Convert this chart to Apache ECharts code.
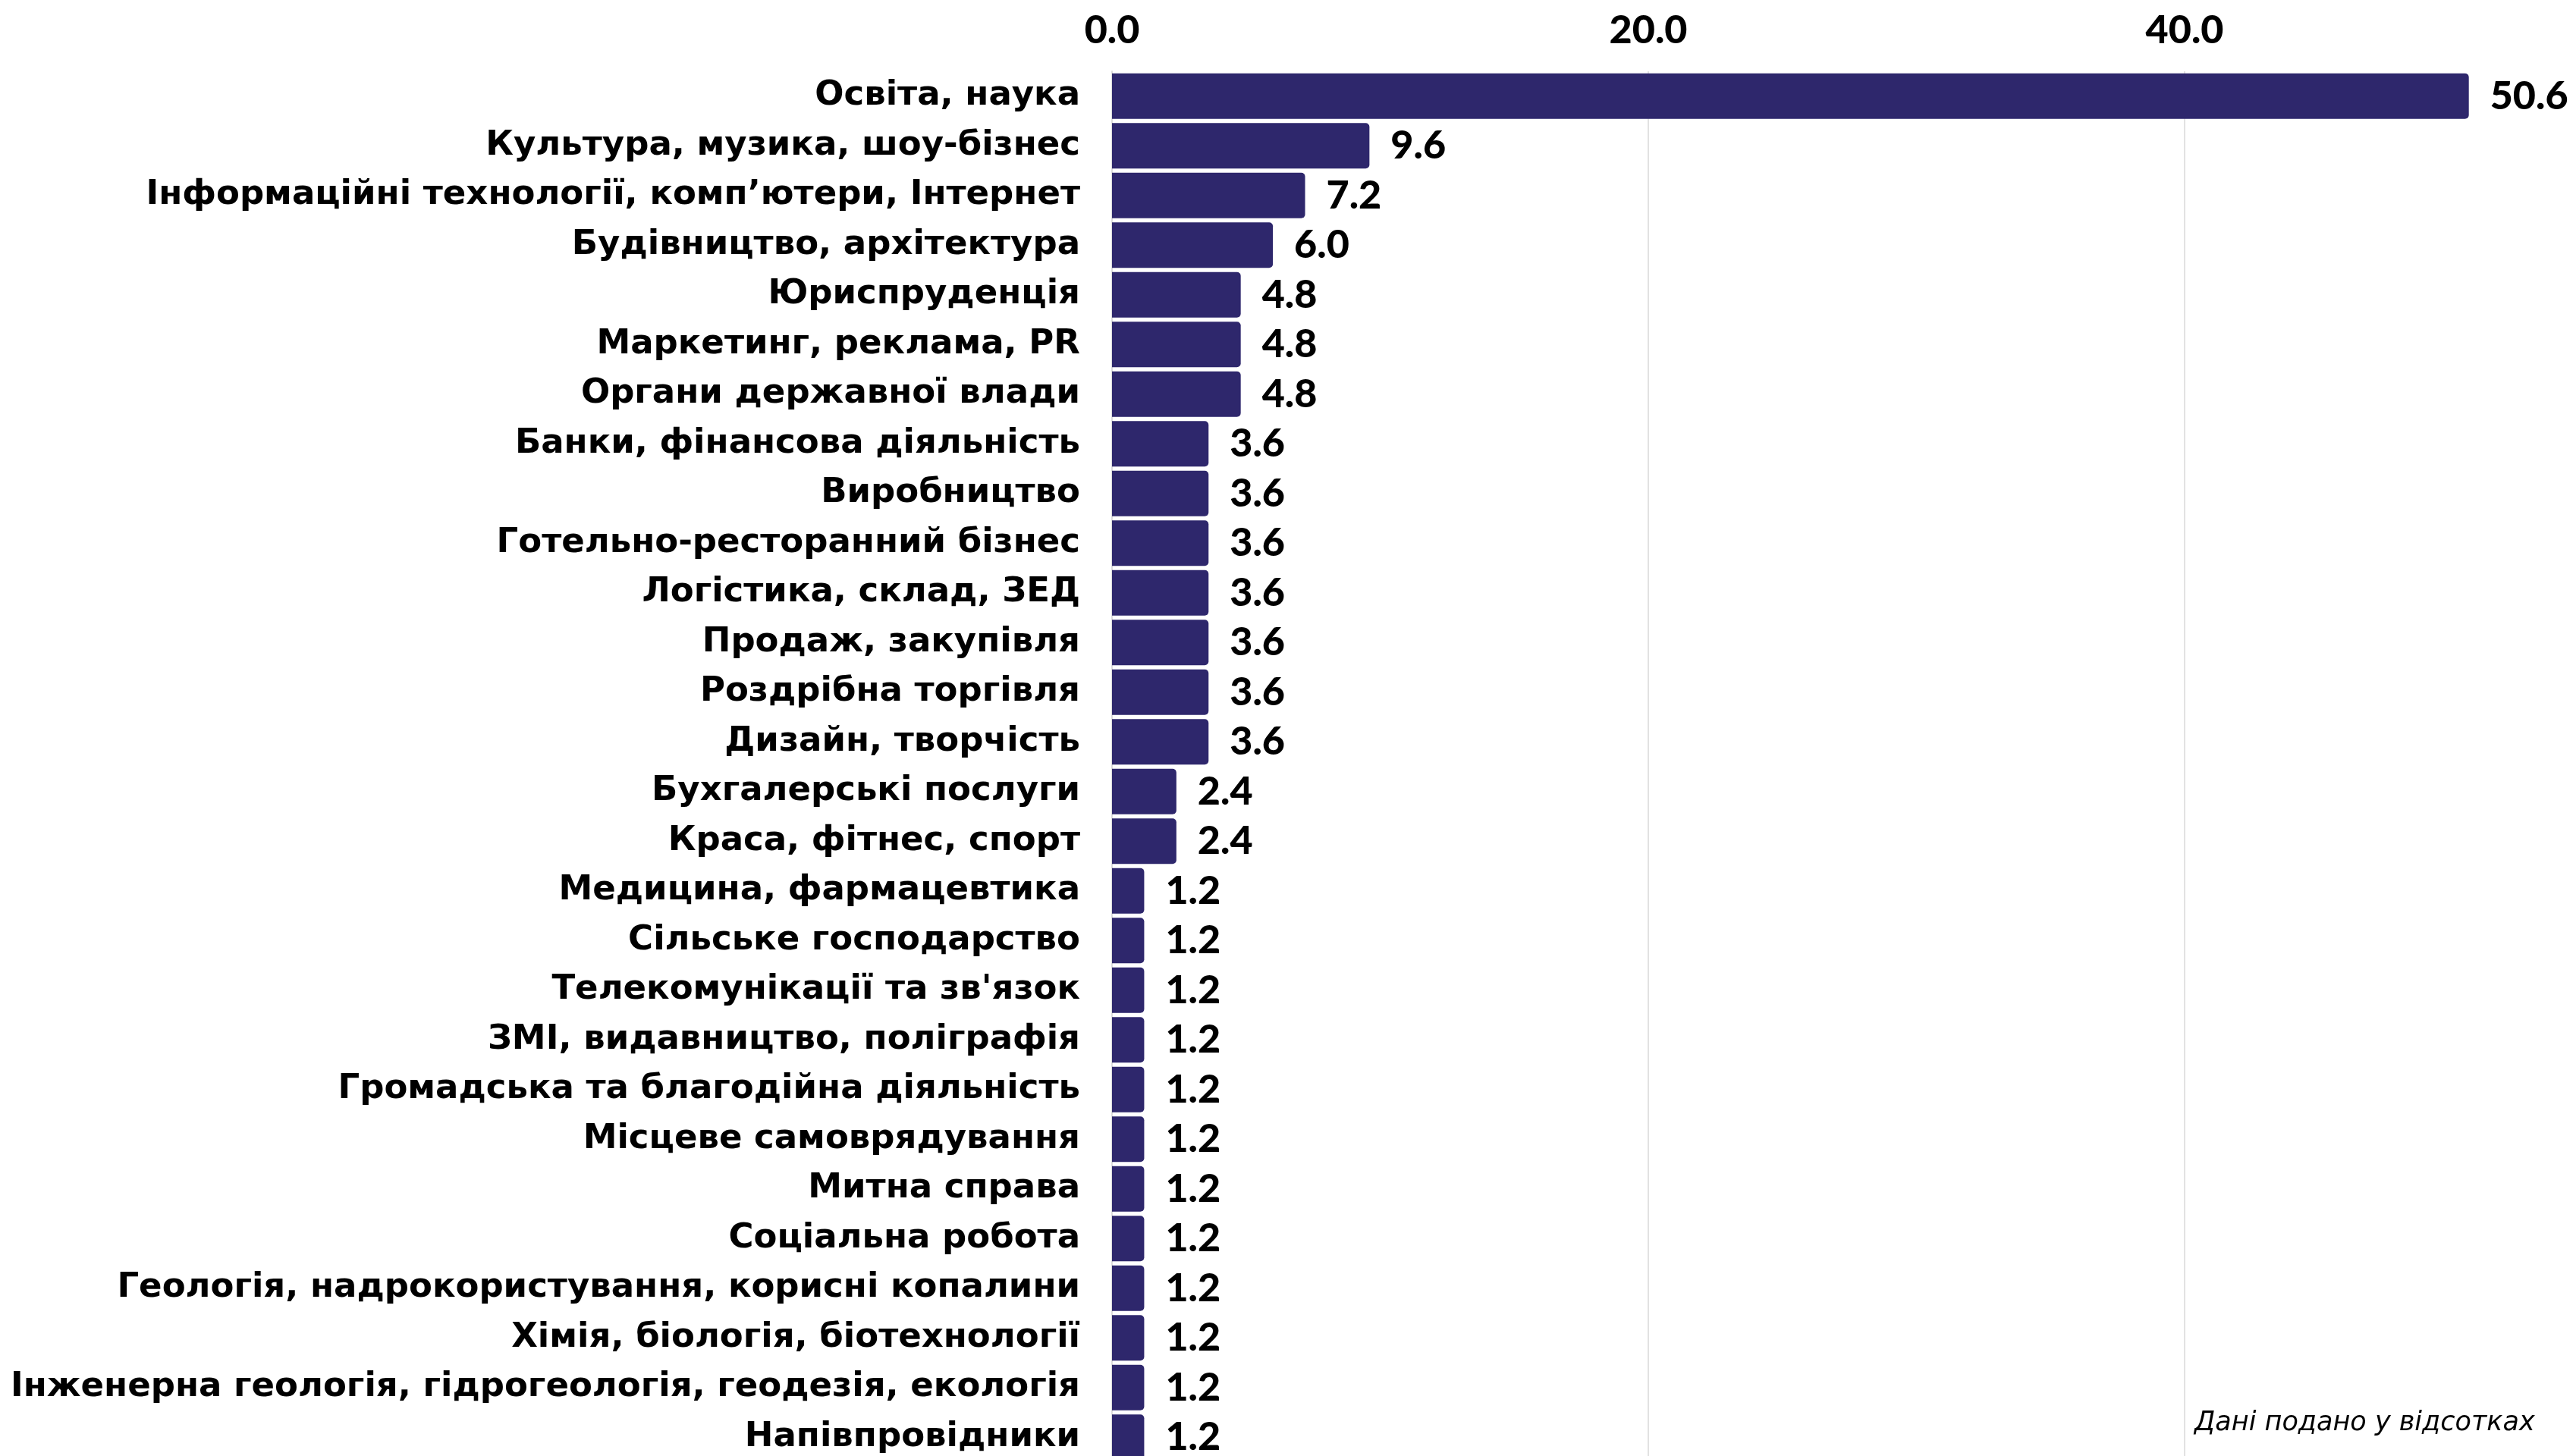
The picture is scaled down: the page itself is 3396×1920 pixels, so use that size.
<!DOCTYPE html>
<html>
<head>
<meta charset="utf-8">
<script src="https://cdn.jsdelivr.net/npm/echarts@6/dist/echarts.min.js"></script>
<style>
  html, body { margin: 0; padding: 0; overflow: hidden; background: #fff; }
  #chart { width: 3396px; height: 1920px; }
</style>
</head>
<body>
<div id="chart"></div>
<script>
const categories = [
  "Освіта, наука",
  "Культура, музика, шоу-бізнес",
  "Інформаційні технології, комп’ютери, Інтернет",
  "Будівництво, архітектура",
  "Юриспруденція",
  "Маркетинг, реклама, PR",
  "Органи державної влади",
  "Банки, фінансова діяльність",
  "Виробництво",
  "Готельно-ресторанний бізнес",
  "Логістика, склад, ЗЕД",
  "Продаж, закупівля",
  "Роздрібна торгівля",
  "Дизайн, творчість",
  "Бухгалерські послуги",
  "Краса, фітнес, спорт",
  "Медицина, фармацевтика",
  "Сільське господарство",
  "Телекомунікації та зв'язок",
  "ЗМІ, видавництво, поліграфія",
  "Громадська та благодійна діяльність",
  "Місцеве самоврядування",
  "Митна справа",
  "Соціальна робота",
  "Геологія, надрокористування, корисні копалини",
  "Хімія, біологія, біотехнології",
  "Інженерна геологія, гідрогеологія, геодезія, екологія",
  "Напівпровідники"
];
const values = [50.6, 9.6, 7.2, 6.0, 4.8, 4.8, 4.8, 3.6, 3.6, 3.6, 3.6, 3.6, 3.6, 3.6, 2.4, 2.4,
  1.2, 1.2, 1.2, 1.2, 1.2, 1.2, 1.2, 1.2, 1.2, 1.2, 1.2, 1.2];
const xTicks = [0, 20, 40, 60];
const noteText = "Дані подано у відсотках";

const chart = echarts.init(document.getElementById('chart'), null, { renderer: 'canvas', width: 3396, height: 1920 });
chart.setOption({
  animation: false,
  backgroundColor: '#ffffff',
  grid: { left: 1466, right: -191, top: 94, bottom: -8, containLabel: false, outerBoundsMode: 'none' },
  xAxis: {
    type: 'value',
    position: 'top',
    min: xTicks[0],
    max: xTicks[xTicks.length - 1],
    interval: xTicks[1] - xTicks[0],
    axisLine: { show: false },
    axisTick: { show: false },
    axisLabel: {
      show: true,
      margin: 28,
      fontFamily: 'Lato',
      fontWeight: 900,
      fontSize: 52,
      color: '#000',
      formatter: v => v.toFixed(1)
    },
    splitLine: { show: true, lineStyle: { color: '#e2e2e2', width: 2 } }
  },
  yAxis: {
    type: 'category',
    data: categories,
    inverse: true,
    axisLine: { show: true, lineStyle: { color: '#dddddd', width: 2 } },
    axisTick: { show: false },
    axisLabel: {
      margin: 42,
      fontFamily: 'DejaVu Sans',
      fontWeight: 'bold',
      fontSize: 45,
      color: '#000'
    }
  },
  series: [{
    type: 'bar',
    data: values,
    barCategoryGap: '8.4%',
    itemStyle: { color: '#2e276c', borderRadius: [0, 5, 5, 0] },
    label: {
      show: true,
      position: 'right',
      distance: 28,
      fontFamily: 'Lato',
      fontWeight: 900,
      fontSize: 52,
      color: '#000',
      formatter: p => p.value.toFixed(1)
    }
  }],
  graphic: [{
    type: 'text',
    x: 2893,
    y: 1877,
    style: {
      text: noteText,
      fontFamily: 'DejaVu Sans',
      fontStyle: 'italic',
      fontSize: 35,
      fill: '#000',
      align: 'left',
      verticalAlign: 'middle'
    }
  }]
});
</script>
</body>
</html>
